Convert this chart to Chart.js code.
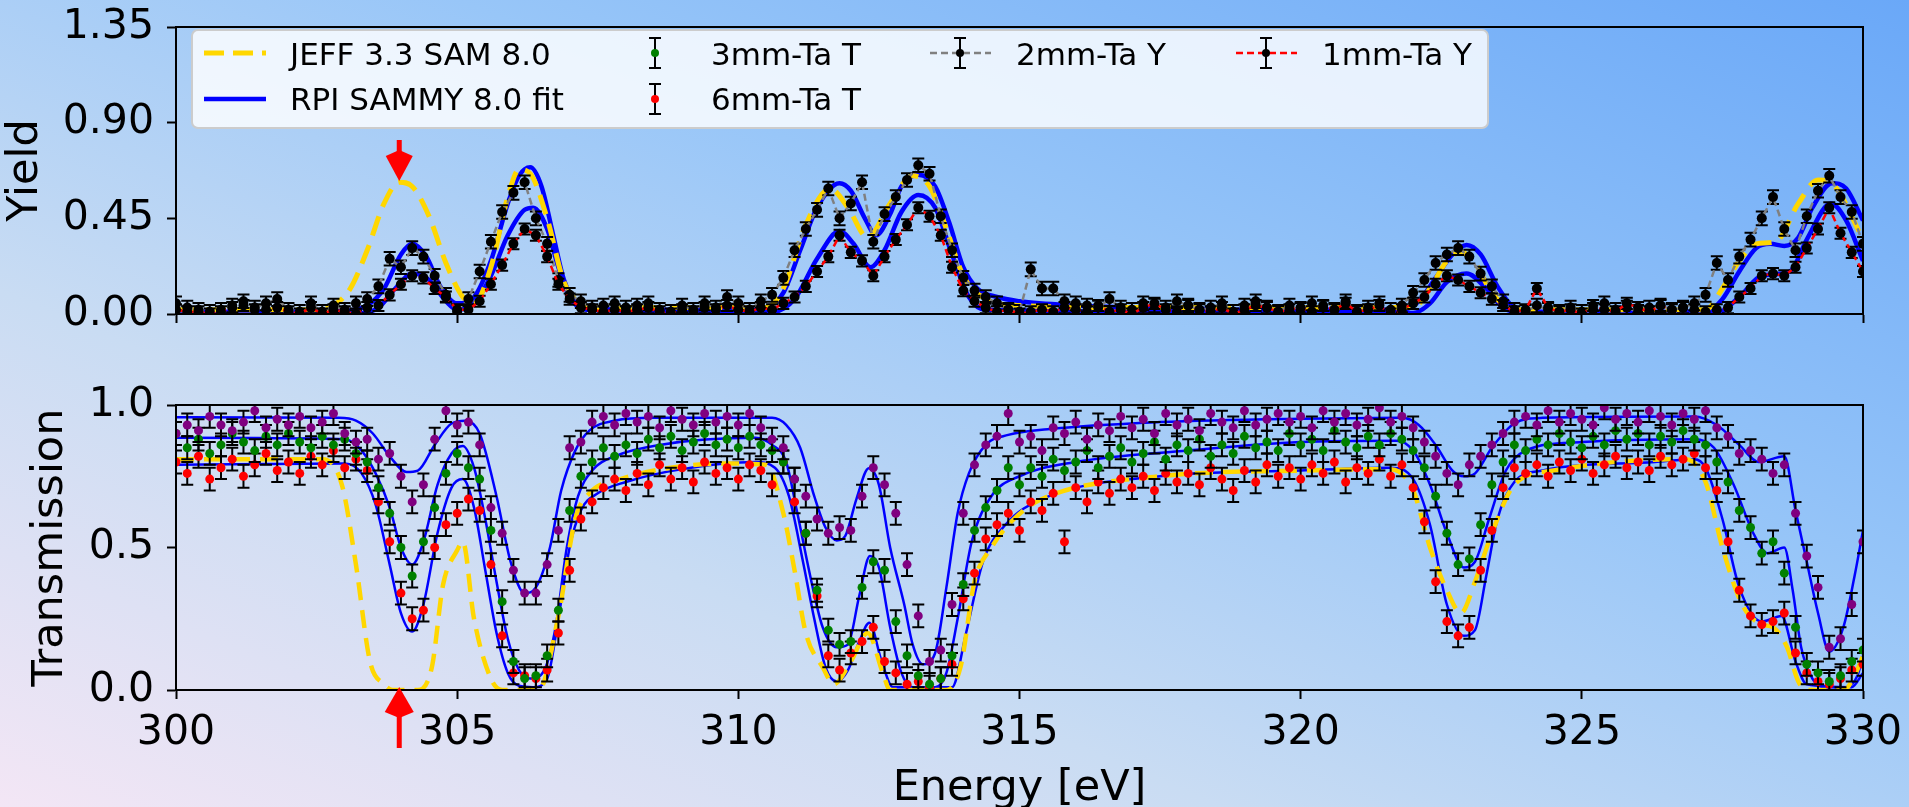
<!DOCTYPE html>
<html>
<head>
<meta charset="utf-8">
<script src="https://cdn.jsdelivr.net/npm/chart.js@4.4.1/dist/chart.umd.min.js"></script>
<style>
  html, body { margin: 0; padding: 0; width: 1909px; height: 807px; overflow: hidden; }
  body {
    position: relative;
    background: linear-gradient(to top right, #f3e6f5 0%, #c9dcf3 32%, #98c6f8 62%, #6aa8f8 100%);
  }
  canvas { position: absolute; left: 0; }
  #yieldChart { top: 0; }
  #transChart { top: 380px; }
</style>
</head>
<body>
<canvas id="yieldChart" width="1909" height="380"></canvas>
<canvas id="transChart" width="1909" height="440"></canvas>
<script>
// energy grid of the measured points [eV]
const dataE = [
  300.0, 300.2, 300.4, 300.6, 300.8, 301.0, 301.2, 301.4, 301.6, 301.8,
  302.0, 302.2, 302.4, 302.6, 302.8, 303.0, 303.2, 303.4, 303.6, 303.8,
  304.0, 304.2, 304.4, 304.6, 304.8, 305.0, 305.2, 305.4, 305.6, 305.8,
  306.0, 306.2, 306.4, 306.6, 306.8, 307.0, 307.2, 307.4, 307.6, 307.8,
  308.0, 308.2, 308.4, 308.6, 308.8, 309.0, 309.2, 309.4, 309.6, 309.8,
  310.0, 310.2, 310.4, 310.6, 310.8, 311.0, 311.2, 311.4, 311.6, 311.8,
  312.0, 312.2, 312.4, 312.6, 312.8, 313.0, 313.2, 313.4, 313.6, 313.8,
  314.0, 314.2, 314.4, 314.6, 314.8, 315.0, 315.2, 315.4, 315.6, 315.8,
  316.0, 316.2, 316.4, 316.6, 316.8, 317.0, 317.2, 317.4, 317.6, 317.8,
  318.0, 318.2, 318.4, 318.6, 318.8, 319.0, 319.2, 319.4, 319.6, 319.8,
  320.0, 320.2, 320.4, 320.6, 320.8, 321.0, 321.2, 321.4, 321.6, 321.8,
  322.0, 322.2, 322.4, 322.6, 322.8, 323.0, 323.2, 323.4, 323.6, 323.8,
  324.0, 324.2, 324.4, 324.6, 324.8, 325.0, 325.2, 325.4, 325.6, 325.8,
  326.0, 326.2, 326.4, 326.6, 326.8, 327.0, 327.2, 327.4, 327.6, 327.8,
  328.0, 328.2, 328.4, 328.6, 328.8, 329.0, 329.2, 329.4, 329.6, 329.8,
  330.0
];

// capture yield, 2 mm Ta
const yield2mm = [
  0.05, 0.03, 0.02, 0.01, 0.02, 0.04, 0.06, 0.03, 0.05, 0.07,
  0.02, 0.01, 0.05, 0.01, 0.04, 0.02, 0.05, 0.07, 0.13, 0.26,
  0.22, 0.31, 0.27, 0.18, 0.09, 0.01, 0.07, 0.20, 0.34, 0.48,
  0.57, 0.62, 0.45, 0.33, 0.16, 0.09, 0.06, 0.03, 0.04, 0.05,
  0.03, 0.04, 0.05, 0.02, 0.01, 0.04, 0.02, 0.05, 0.03, 0.08,
  0.05, 0.02, 0.06, 0.09, 0.17, 0.30, 0.40, 0.49, 0.59, 0.45,
  0.52, 0.62, 0.34, 0.47, 0.55, 0.63, 0.70, 0.66, 0.46, 0.30,
  0.17, 0.11, 0.08, 0.05, 0.02, 0.01, 0.21, 0.12, 0.12, 0.06,
  0.05, 0.04, 0.03, 0.07, 0.03, 0.02, 0.05, 0.04, 0.03, 0.06,
  0.04, 0.02, 0.03, 0.05, 0.01, 0.04, 0.06, 0.03, 0.01, 0.04,
  0.02, 0.05, 0.03, 0.02, 0.06, 0.01, 0.03, 0.05, 0.02, 0.04,
  0.10, 0.16, 0.24, 0.28, 0.31, 0.27, 0.19, 0.13, 0.06, 0.02,
  0.01, 0.04, 0.02, 0.01, 0.03, 0.01, 0.02, 0.05, 0.02, 0.03,
  0.01, 0.03, 0.04, 0.02, 0.03, 0.05, 0.09, 0.24, 0.16, 0.27,
  0.35, 0.45, 0.55, 0.40, 0.30, 0.46, 0.58, 0.65, 0.55, 0.48,
  0.33
];

// capture yield, 1 mm Ta
const yield1mm = [
  0.02, 0.01, 0.01, 0.00, 0.01, 0.03, 0.04, 0.02, 0.02, 0.03,
  0.01, 0.00, 0.03, 0.00, 0.02, 0.01, 0.00, 0.03, 0.04, 0.09,
  0.14, 0.18, 0.17, 0.12, 0.08, 0.02, 0.02, 0.06, 0.14, 0.23,
  0.33, 0.40, 0.37, 0.27, 0.14, 0.07, 0.03, 0.02, 0.01, 0.02,
  0.01, 0.02, 0.03, 0.01, 0.00, 0.02, 0.01, 0.03, 0.02, 0.04,
  0.02, 0.01, 0.03, 0.02, 0.05, 0.08, 0.13, 0.20, 0.27, 0.37,
  0.29, 0.25, 0.18, 0.27, 0.35, 0.42, 0.50, 0.46, 0.37, 0.22,
  0.11, 0.06, 0.03, 0.01, 0.02, 0.00, 0.01, 0.02, 0.01, 0.03,
  0.02, 0.01, 0.04, 0.01, 0.02, 0.00, 0.03, 0.05, 0.02, 0.01,
  0.04, 0.02, 0.01, 0.03, 0.00, 0.02, 0.04, 0.03, 0.01, 0.02,
  0.03, 0.01, 0.04, 0.02, 0.05, 0.01, 0.02, 0.04, 0.00, 0.02,
  0.05, 0.08, 0.14, 0.18, 0.16, 0.13, 0.10, 0.07, 0.04, 0.01,
  0.02, 0.12, 0.03, 0.01, 0.02, 0.00, 0.04, 0.02, 0.01, 0.05,
  0.03, 0.01, 0.04, 0.02, 0.03, 0.02, 0.01, 0.02, 0.03, 0.08,
  0.12, 0.18, 0.19, 0.18, 0.22, 0.31, 0.40, 0.50, 0.38, 0.29,
  0.20
];

// transmission, thinnest sample (purple, not in legend)
const transThin = [
  0.90, 0.93, 0.91, 0.96, 0.93, 0.91, 0.94, 0.98, 0.92, 0.95,
  0.93, 0.96, 0.92, 0.94, 0.97, 0.90, 0.87, 0.88, 0.81, 0.83,
  0.75, 0.66, 0.72, 0.88, 0.98, 0.93, 0.94, 0.86, 0.64, 0.55,
  0.42, 0.34, 0.34, 0.44, 0.56, 0.85, 0.87, 0.94, 0.96, 0.93,
  0.97, 0.94, 0.96, 0.92, 0.98, 0.95, 0.93, 0.97, 0.94, 0.96,
  0.93, 0.97, 0.92, 0.88, 0.85, 0.74, 0.68, 0.60, 0.55, 0.57,
  0.56, 0.68, 0.78, 0.72, 0.62, 0.44, 0.26, 0.10, 0.14, 0.30,
  0.62, 0.79, 0.86, 0.89, 0.97, 0.87, 0.89, 0.84, 0.92, 0.90,
  0.94, 0.88, 0.93, 0.91, 0.96, 0.92, 0.95, 0.90, 0.97, 0.93,
  0.95, 0.91, 0.97, 0.94, 0.92, 0.98, 0.93, 0.95, 0.97, 0.94,
  0.96, 0.92, 0.98, 0.94, 0.97, 0.93, 0.95, 0.99, 0.94, 0.96,
  0.92, 0.87, 0.82, 0.76, 0.72, 0.79, 0.82, 0.86, 0.90, 0.94,
  0.96, 0.93, 0.98, 0.94, 0.97, 0.95, 0.93, 0.99, 0.95, 0.97,
  0.94, 0.98, 0.96, 0.93, 0.97, 0.95, 0.98, 0.92, 0.89, 0.83,
  0.84, 0.81, 0.76, 0.79, 0.62, 0.47, 0.36, 0.15, 0.18, 0.30,
  0.52
];

// transmission, 3 mm Ta
const trans3mm = [
  0.90, 0.85, 0.88, 0.83, 0.86, 0.90, 0.87, 0.84, 0.89, 0.86,
  0.90, 0.87, 0.85, 0.89, 0.86, 0.88, 0.83, 0.80, 0.71, 0.62,
  0.50, 0.40, 0.52, 0.64, 0.76, 0.83, 0.78, 0.74, 0.56, 0.31,
  0.10, 0.04, 0.05, 0.12, 0.28, 0.63, 0.75, 0.80, 0.85, 0.82,
  0.86, 0.83, 0.88, 0.85, 0.89, 0.84, 0.87, 0.90, 0.86, 0.88,
  0.85, 0.89, 0.86, 0.84, 0.80, 0.74, 0.55, 0.35, 0.21, 0.16,
  0.17, 0.36, 0.45, 0.42, 0.24, 0.12, 0.05, 0.02, 0.04, 0.12,
  0.37, 0.56, 0.64, 0.70, 0.78, 0.72, 0.78, 0.75, 0.81, 0.77,
  0.80, 0.84, 0.78, 0.82, 0.85, 0.80, 0.83, 0.87, 0.81, 0.86,
  0.84, 0.88, 0.82, 0.86, 0.83, 0.89, 0.85, 0.87, 0.84, 0.90,
  0.86, 0.88, 0.84, 0.91, 0.87, 0.85, 0.89, 0.86, 0.90, 0.88,
  0.84, 0.78, 0.68, 0.55, 0.44, 0.46, 0.58, 0.72, 0.80, 0.86,
  0.84, 0.88, 0.86, 0.90, 0.87, 0.85, 0.89, 0.86, 0.91, 0.88,
  0.90, 0.86, 0.89, 0.87, 0.91, 0.88, 0.86, 0.80, 0.73, 0.63,
  0.57, 0.48, 0.52, 0.41, 0.22, 0.09, 0.06, 0.03, 0.05, 0.10,
  0.14
];

// transmission, 6 mm Ta
const trans6mm = [
  0.80, 0.76, 0.82, 0.74, 0.78, 0.81, 0.75, 0.79, 0.83, 0.77,
  0.80, 0.76, 0.82, 0.79, 0.84, 0.78, 0.81, 0.77, 0.66, 0.52,
  0.34, 0.25, 0.28, 0.50, 0.58, 0.62, 0.67, 0.63, 0.44, 0.19,
  0.06, 0.05, 0.04, 0.07, 0.20, 0.42, 0.60, 0.66, 0.71, 0.74,
  0.70, 0.76, 0.72, 0.79, 0.74, 0.78, 0.73, 0.80, 0.76, 0.78,
  0.74, 0.79, 0.77, 0.72, 0.80, 0.66, 0.55, 0.33, 0.12, 0.07,
  0.13, 0.17, 0.22, 0.10, 0.06, 0.02, 0.03, 0.01, 0.04, 0.09,
  0.32, 0.41, 0.53, 0.58, 0.62, 0.56, 0.66, 0.63, 0.69, 0.52,
  0.71, 0.66, 0.73, 0.69, 0.74, 0.71, 0.75, 0.70, 0.76, 0.73,
  0.76, 0.72, 0.78, 0.74, 0.70, 0.77, 0.73, 0.79, 0.75, 0.78,
  0.74, 0.79, 0.76, 0.80, 0.73, 0.78, 0.76, 0.81, 0.75, 0.79,
  0.71, 0.59, 0.38, 0.24, 0.19, 0.22, 0.42, 0.56, 0.71, 0.78,
  0.76, 0.79, 0.75, 0.80, 0.77, 0.81, 0.76, 0.79, 0.82, 0.78,
  0.80, 0.77, 0.82, 0.79, 0.81, 0.83, 0.78, 0.70, 0.52, 0.35,
  0.26, 0.23, 0.24, 0.27, 0.13, 0.06, 0.03, 0.02, 0.04, 0.07,
  0.09
];

// JEFF-3.3 yield curve
const jeffYieldE = [
  300, 302.5, 302.8, 303.1, 303.4, 303.7, 303.97, 304.2, 304.5, 304.8,
  305.1, 305.3, 305.6, 305.9, 306.1, 306.3, 306.6, 306.9, 307.2, 307.5,
  310.5, 310.8, 311.2, 311.63, 311.95, 312.3, 312.7, 313.1, 313.4, 313.7,
  314.0, 314.4, 315, 317, 322.0, 322.3, 322.6, 322.85, 323.1, 323.4,
  323.8, 327.2, 327.5, 327.8, 328.1, 328.45, 328.85, 329.2, 329.5, 330
];
const jeffYield = [
  0.02, 0.02, 0.04, 0.12, 0.30, 0.52, 0.62, 0.60, 0.46, 0.24,
  0.08, 0.05, 0.22, 0.55, 0.68, 0.66, 0.45, 0.15, 0.05, 0.03,
  0.03, 0.12, 0.42, 0.59, 0.50, 0.36, 0.52, 0.65, 0.60, 0.40,
  0.18, 0.07, 0.04, 0.03, 0.03, 0.12, 0.25, 0.29, 0.24, 0.10,
  0.02, 0.02, 0.12, 0.25, 0.33, 0.34, 0.52, 0.63, 0.60, 0.35
];

// RPI SAMMY fit, 2 mm yield
const fit2mmE = [
  300, 302.5, 303.0, 303.4, 303.7, 304.0, 304.2, 304.45, 304.7, 305.0,
  305.3, 305.6, 305.9, 306.1, 306.3, 306.5, 306.7, 306.9, 307.1, 307.4,
  308, 310, 310.5, 310.8, 311.1, 311.4, 311.8, 312.0, 312.25, 312.45,
  312.7, 312.9, 313.2, 313.5, 313.75, 314.0, 314.25, 314.6, 315, 316,
  317, 319, 321.8, 322.1, 322.4, 322.7, 322.95, 323.2, 323.5, 323.8,
  324.2, 327.2, 327.5, 327.8, 328.1, 328.35, 328.6, 328.85, 329.1, 329.45,
  329.7, 330
];
const fit2mmYield = [
  0.01, 0.01, 0.015, 0.04, 0.12, 0.28, 0.33, 0.27, 0.13, 0.05,
  0.08, 0.25, 0.52, 0.65, 0.69, 0.60, 0.38, 0.16, 0.06, 0.03,
  0.02, 0.02, 0.03, 0.10, 0.30, 0.50, 0.615, 0.58, 0.45, 0.37,
  0.47, 0.60, 0.655, 0.60, 0.43, 0.22, 0.12, 0.08, 0.06, 0.04,
  0.03, 0.02, 0.02, 0.06, 0.17, 0.28, 0.325, 0.28, 0.13, 0.03,
  0.01, 0.01, 0.07, 0.20, 0.31, 0.33, 0.32, 0.36, 0.50, 0.615,
  0.59, 0.44
];

// RPI SAMMY fit, 1 mm yield
const fit1mmE = [
  300, 303.3, 303.6, 303.9, 304.2, 304.5, 304.8, 305.0, 305.3, 305.6,
  305.9, 306.2, 306.35, 306.6, 306.8, 307.0, 307.3, 310.6, 311.0, 311.4,
  311.8, 312.05, 312.35, 312.6, 312.9, 313.2, 313.5, 313.8, 314.1, 314.4,
  322.0, 322.3, 322.6, 322.95, 323.3, 323.6, 324.0, 327.4, 327.8, 328.2,
  328.7, 329.0, 329.43, 329.7, 330
];
const fit1mmYield = [
  0.005, 0.005, 0.03, 0.12, 0.19, 0.16, 0.06, 0.02, 0.05, 0.18,
  0.37, 0.49, 0.50, 0.40, 0.22, 0.08, 0.02, 0.01, 0.07, 0.26,
  0.39, 0.33, 0.22, 0.30, 0.48, 0.56, 0.50, 0.28, 0.08, 0.02,
  0.005, 0.05, 0.15, 0.19, 0.12, 0.03, 0.005, 0.005, 0.08, 0.18,
  0.20, 0.35, 0.52, 0.44, 0.25
];

// RPI SAMMY fit, thin sample transmission
const fitThinE = [
  300, 302.9, 303.2, 303.5, 303.8, 304.1, 304.3, 304.6, 304.9, 305.15,
  305.4, 305.7, 305.95, 306.2, 306.4, 306.65, 306.85, 307.1, 307.35, 307.8,
  308.5, 310.6, 310.85, 311.1, 311.35, 311.55, 311.75, 311.9, 312.1, 312.32,
  312.5, 312.7, 312.95, 313.1, 313.28, 313.5, 313.7, 313.9, 314.1, 314.4,
  314.8, 315.5, 317.5, 320, 321.8, 322.1, 322.4, 322.7, 322.9, 323.1,
  323.4, 323.8, 324.3, 327.0, 327.4, 327.8, 328.15, 328.6, 328.8, 329.0,
  329.2, 329.4, 329.65, 329.85, 330
];
const fitThinT = [
  0.957, 0.955, 0.945, 0.90, 0.82, 0.765, 0.77, 0.86, 0.935, 0.945,
  0.90, 0.68, 0.45, 0.34, 0.36, 0.50, 0.70, 0.84, 0.91, 0.945,
  0.955, 0.955, 0.93, 0.85, 0.68, 0.57, 0.525, 0.54, 0.67, 0.778,
  0.72, 0.50, 0.30, 0.16, 0.09, 0.13, 0.36, 0.62, 0.76, 0.86,
  0.895, 0.915, 0.94, 0.952, 0.955, 0.93, 0.86, 0.77, 0.75, 0.76,
  0.85, 0.935, 0.955, 0.96, 0.93, 0.86, 0.80, 0.82, 0.63, 0.45,
  0.27, 0.135, 0.22, 0.40, 0.56
];

// RPI SAMMY fit, 3 mm transmission
const fit3mmE = [
  300, 303.0, 303.3, 303.55, 303.8, 304.0, 304.2, 304.4, 304.65, 304.9,
  305.1, 305.3, 305.5, 305.7, 305.9, 306.1, 306.3, 306.55, 306.75, 306.95,
  307.15, 307.4, 307.8, 308.6, 310.3, 310.6, 310.85, 311.05, 311.3, 311.5,
  311.75, 311.95, 312.15, 312.34, 312.5, 312.7, 312.9, 313.1, 313.5, 313.7,
  313.9, 314.15, 314.5, 315.0, 316.0, 318.0, 320.0, 321.7, 322.0, 322.3,
  322.6, 322.9, 323.1, 323.35, 323.65, 324.0, 325.0, 327.0, 327.35, 327.7,
  328.05, 328.3, 328.6, 328.75, 328.9, 329.1, 329.3, 329.7, 329.9, 330.0
];
const fit3mmT = [
  0.885, 0.88, 0.84, 0.76, 0.64, 0.50, 0.44, 0.52, 0.72, 0.83,
  0.856, 0.78, 0.60, 0.38, 0.18, 0.07, 0.04, 0.07, 0.22, 0.50,
  0.68, 0.77, 0.82, 0.86, 0.885, 0.86, 0.80, 0.62, 0.38, 0.22,
  0.15, 0.16, 0.33, 0.47, 0.43, 0.22, 0.06, 0.01, 0.01, 0.06,
  0.25, 0.52, 0.68, 0.75, 0.80, 0.84, 0.87, 0.875, 0.84, 0.72,
  0.55, 0.43, 0.45, 0.60, 0.77, 0.84, 0.87, 0.88, 0.85, 0.72,
  0.55, 0.48, 0.50, 0.35, 0.15, 0.04, 0.01, 0.01, 0.05, 0.12
];

// RPI SAMMY fit, 6 mm transmission
const fit6mmE = [
  300, 303.0, 303.3, 303.55, 303.8, 304.0, 304.2, 304.4, 304.65, 304.9,
  305.1, 305.3, 305.5, 305.7, 305.9, 306.1, 306.35, 306.6, 306.8, 307.0,
  307.2, 307.5, 308.0, 309.0, 310.3, 310.65, 310.9, 311.15, 311.35, 311.55,
  311.75, 311.95, 312.15, 312.33, 312.55, 312.75, 313.8, 314.05, 314.35, 314.75,
  315.4, 317.5, 320, 321.6, 322.0, 322.3, 322.6, 322.9, 323.1, 323.3,
  323.5, 323.8, 324.3, 326.3, 327.0, 327.2, 327.5, 327.8, 328.2, 328.55,
  328.8, 329.0, 329.8, 330
];
const fit6mmT = [
  0.79, 0.795, 0.76, 0.65, 0.44, 0.27, 0.205, 0.30, 0.55, 0.71,
  0.74, 0.64, 0.42, 0.20, 0.06, 0.015, 0.01, 0.04, 0.25, 0.50,
  0.63, 0.69, 0.73, 0.775, 0.80, 0.78, 0.68, 0.45, 0.25, 0.08,
  0.03, 0.07, 0.17, 0.236, 0.10, 0.01, 0.01, 0.20, 0.45, 0.58,
  0.67, 0.75, 0.77, 0.78, 0.74, 0.58, 0.30, 0.19, 0.21, 0.40,
  0.60, 0.73, 0.77, 0.80, 0.81, 0.78, 0.60, 0.36, 0.24, 0.26,
  0.10, 0.02, 0.01, 0.06
];

// JEFF-3.3 transmission curve
const jeffTransE = [
  300, 302.6, 302.95, 303.2, 303.45, 303.7, 303.85, 304.3, 304.55, 304.75,
  305.0, 305.1, 305.3, 305.6, 305.8, 306.45, 306.8, 307.1, 307.35, 307.9,
  309.8, 310.5, 310.8, 311.0, 311.2, 311.5, 311.7, 312.0, 312.3, 312.57,
  312.7, 313.7, 313.95, 314.2, 314.5, 314.9, 315.4, 317.5, 320, 321.6,
  322.0, 322.3, 322.6, 322.85, 323.1, 323.4, 323.8, 324.5, 326.85, 327.2,
  327.5, 327.85, 328.2, 328.4, 328.65, 328.85, 329.0, 329.66, 329.85, 330
];
const jeffTrans = [
  0.81, 0.81, 0.72, 0.44, 0.10, 0.02, 0.0, 0.0, 0.08, 0.37,
  0.49, 0.52, 0.25, 0.04, 0.0, 0.0, 0.26, 0.60, 0.69, 0.74,
  0.795, 0.79, 0.62, 0.42, 0.20, 0.08, 0.02, 0.10, 0.20, 0.06,
  0.0, 0.0, 0.08, 0.38, 0.50, 0.60, 0.67, 0.75, 0.77, 0.775,
  0.70, 0.50, 0.35, 0.27, 0.38, 0.55, 0.72, 0.77, 0.81, 0.73,
  0.50, 0.30, 0.23, 0.22, 0.15, 0.03, 0.0, 0.0, 0.05, 0.12
];

const energyTicks = [300, 305, 310, 315, 320, 325, 330];
const yieldTicks = [0, 0.45, 0.90, 1.35];
const transTicks = [0, 0.5, 1.0];
const arrowEnergy = 303.97;   // missing resonance marked by the red arrows
const yieldErr = { y2: 0.032, y1: 0.026 };
const transErr = 0.04;

const FONT = 'DejaVu Sans';
const pts = (xs, ys) => xs.map((x, i) => ({ x: x, y: ys[i] }));

// black error bars under each measured dataset
const errorBars = {
  id: 'errorBars',
  beforeDatasetDraw(chart, args) {
    const ds = chart.data.datasets[args.index];
    if (!ds.errHalf) return;
    const ys = chart.scales.y, a = chart.chartArea, ctx = chart.ctx;
    ctx.save();
    ctx.beginPath();
    ctx.rect(a.left, a.top, a.right - a.left, a.bottom - a.top);
    ctx.clip();
    ctx.strokeStyle = '#000';
    ctx.lineWidth = 2;
    ctx.beginPath();
    args.meta.data.forEach((p, i) => {
      const v = ds.data[i].y;
      const y1 = ys.getPixelForValue(v - ds.errHalf);
      const y2 = ys.getPixelForValue(v + ds.errHalf);
      ctx.moveTo(p.x, y1); ctx.lineTo(p.x, y2);
      ctx.moveTo(p.x - 6, y1); ctx.lineTo(p.x + 6, y1);
      ctx.moveTo(p.x - 6, y2); ctx.lineTo(p.x + 6, y2);
    });
    ctx.stroke();
    ctx.restore();
  }
};

// box round the plot area
const frame = {
  id: 'frame',
  afterDraw(chart) {
    const a = chart.chartArea, ctx = chart.ctx;
    ctx.save();
    ctx.strokeStyle = '#000';
    ctx.lineWidth = 2;
    ctx.strokeRect(a.left, a.top, a.right - a.left, a.bottom - a.top);
    ctx.restore();
  }
};

const arrow = {
  id: 'arrow',
  afterDraw(chart, args, o) {
    const x = chart.scales.x.getPixelForValue(arrowEnergy);
    const ctx = chart.ctx;
    ctx.save();
    ctx.fillStyle = '#ff0000';
    ctx.strokeStyle = '#ff0000';
    ctx.lineWidth = 5;
    ctx.beginPath(); ctx.moveTo(x, o.tail); ctx.lineTo(x, o.base); ctx.stroke();
    ctx.beginPath();
    ctx.moveTo(x, o.tip);
    ctx.lineTo(x - o.head / 2, o.base);
    ctx.lineTo(x, o.base + (o.tip < o.base ? 6 : -6));
    ctx.lineTo(x + o.head / 2, o.base);
    ctx.closePath();
    ctx.fill();
    ctx.restore();
  }
};

function errGlyph(ctx, x, y, dot) {
  ctx.strokeStyle = '#000';
  ctx.lineWidth = 2;
  ctx.beginPath();
  ctx.moveTo(x, y - 15); ctx.lineTo(x, y + 15);
  ctx.moveTo(x - 6, y - 15); ctx.lineTo(x + 6, y - 15);
  ctx.moveTo(x - 6, y + 15); ctx.lineTo(x + 6, y + 15);
  ctx.stroke();
  ctx.fillStyle = dot;
  ctx.beginPath(); ctx.arc(x, y, 4, 0, Math.PI * 2); ctx.fill();
}

const legendBox = {
  id: 'legendBox',
  afterDraw(chart) {
    const ctx = chart.ctx;
    ctx.save();
    ctx.fillStyle = 'rgba(255,255,255,0.82)';
    ctx.strokeStyle = '#cccccc';
    ctx.lineWidth = 2;
    ctx.beginPath();
    ctx.roundRect(192, 30, 1296, 98, 6);
    ctx.fill(); ctx.stroke();

    const r1 = 53, r2 = 99;
    ctx.lineCap = 'butt';
    ctx.setLineDash([20, 9]); ctx.strokeStyle = '#ffd700'; ctx.lineWidth = 5;
    ctx.beginPath(); ctx.moveTo(204, r1); ctx.lineTo(266, r1); ctx.stroke();
    ctx.setLineDash([]); ctx.strokeStyle = '#0000ff'; ctx.lineWidth = 4.5;
    ctx.beginPath(); ctx.moveTo(204, r2); ctx.lineTo(266, r2); ctx.stroke();

    errGlyph(ctx, 655, r1, '#008000');
    errGlyph(ctx, 655, r2, '#ff0000');

    ctx.setLineDash([7, 4]); ctx.lineWidth = 2.5;
    ctx.strokeStyle = '#808080';
    ctx.beginPath(); ctx.moveTo(930, r1); ctx.lineTo(991, r1); ctx.stroke();
    ctx.strokeStyle = '#ff0000';
    ctx.beginPath(); ctx.moveTo(1236, r1); ctx.lineTo(1297, r1); ctx.stroke();
    ctx.setLineDash([]);
    errGlyph(ctx, 960, r1, '#000');
    errGlyph(ctx, 1266, r1, '#000');

    ctx.fillStyle = '#000';
    ctx.font = '31px "' + FONT + '"';
    ctx.textBaseline = 'alphabetic';
    ctx.fillText('JEFF 3.3 SAM 8.0', 290, 65);
    ctx.fillText('RPI SAMMY 8.0 fit', 290, 110);
    ctx.fillText('3mm-Ta T', 711, 65);
    ctx.fillText('6mm-Ta T', 711, 110);
    ctx.fillText('2mm-Ta Y', 1016, 65);
    ctx.fillText('1mm-Ta Y', 1322, 65);
    ctx.restore();
  }
};

function xAxis(showLabels, height) {
  return {
    type: 'linear', min: 300, max: 330,
    afterBuildTicks: s => { s.ticks = energyTicks.map(v => ({ value: v })); },
    afterFit: s => { s.height = height; s.paddingLeft = 0; s.paddingRight = 0; },
    ticks: { display: showLabels, color: '#000', padding: 10, maxRotation: 0, autoSkip: false,
             font: { family: FONT, size: 41 } },
    grid: { drawOnChartArea: false, tickLength: 9, tickWidth: 2, tickColor: '#000' },
    border: { color: '#000', width: 2 },
    title: { display: showLabels, text: 'Energy [eV]', color: '#000',
             font: { family: FONT, size: 43 }, padding: { top: 0, bottom: 5 } }
  };
}

function yAxis(ticks, digits, label, titlePad) {
  return {
    type: 'linear', min: ticks[0], max: ticks[ticks.length - 1],
    afterBuildTicks: s => { s.ticks = ticks.map(v => ({ value: v })); },
    afterFit: s => { s.width = 176; s.paddingTop = 0; s.paddingBottom = 0; },
    ticks: { color: '#000', padding: 13, font: { family: FONT, size: 41 },
             callback: v => Number(v).toFixed(digits) },
    grid: { drawOnChartArea: false, tickLength: 9, tickWidth: 2, tickColor: '#000' },
    border: { color: '#000', width: 2 },
    title: { display: true, text: label, color: '#000',
             font: { family: FONT, size: 43 }, padding: { top: titlePad, bottom: 0 } }
  };
}

const common = {
  responsive: false,
  animation: false,
  devicePixelRatio: 1,
  events: [],
  plugins: { legend: { display: false }, tooltip: { enabled: false } }
};

new Chart(document.getElementById('yieldChart'), {
  type: 'line',
  data: {
    datasets: [
      { label: '1mm-Ta Y', data: pts(dataE, yield1mm), errHalf: yieldErr.y1,
        borderColor: '#ff0000', borderWidth: 2.5, borderDash: [7, 4],
        pointRadius: 5, pointBackgroundColor: '#000', pointBorderWidth: 0 },
      { label: '2mm-Ta Y', data: pts(dataE, yield2mm), errHalf: yieldErr.y2,
        borderColor: '#808080', borderWidth: 2.5, borderDash: [7, 4],
        pointRadius: 5, pointBackgroundColor: '#000', pointBorderWidth: 0 },
      { label: 'JEFF 3.3 SAM 8.0', data: pts(jeffYieldE, jeffYield),
        borderColor: '#ffd700', borderWidth: 5, borderDash: [20, 10],
        pointRadius: 0, cubicInterpolationMode: 'monotone' },
      { label: 'RPI SAMMY 8.0 fit', data: pts(fit2mmE, fit2mmYield),
        borderColor: '#0000ff', borderWidth: 4.5,
        pointRadius: 0, cubicInterpolationMode: 'monotone' },
      { label: 'RPI SAMMY 8.0 fit (1mm)', data: pts(fit1mmE, fit1mmYield),
        borderColor: '#0000ff', borderWidth: 4.5,
        pointRadius: 0, cubicInterpolationMode: 'monotone' }
    ]
  },
  options: Object.assign({}, common, {
    layout: { padding: { top: 27, right: 46, left: 0, bottom: 0 } },
    scales: { x: xAxis(false, 66), y: yAxis(yieldTicks, 2, 'Yield', 0) },
    plugins: Object.assign({}, common.plugins, {
      arrow: { tip: 181, base: 156, tail: 140, head: 27 }
    })
  }),
  plugins: [errorBars, frame, arrow, legendBox]
});

new Chart(document.getElementById('transChart'), {
  type: 'line',
  data: {
    datasets: [
      { label: 'thin Ta T', data: pts(dataE, transThin), errHalf: transErr, showLine: false,
        pointRadius: 4.5, pointBackgroundColor: '#800080', pointBorderWidth: 0 },
      { label: '3mm-Ta T', data: pts(dataE, trans3mm), errHalf: transErr, showLine: false,
        pointRadius: 4.5, pointBackgroundColor: '#008000', pointBorderWidth: 0 },
      { label: '6mm-Ta T', data: pts(dataE, trans6mm), errHalf: transErr, showLine: false,
        pointRadius: 4.5, pointBackgroundColor: '#ff0000', pointBorderWidth: 0 },
      { label: 'JEFF 3.3 SAM 8.0', data: pts(jeffTransE, jeffTrans),
        borderColor: '#ffd700', borderWidth: 4.5, borderDash: [18, 10],
        pointRadius: 0, cubicInterpolationMode: 'monotone' },
      { label: 'RPI fit thin', data: pts(fitThinE, fitThinT),
        borderColor: '#0000ff', borderWidth: 2.5, pointRadius: 0, cubicInterpolationMode: 'monotone' },
      { label: 'RPI fit 3mm', data: pts(fit3mmE, fit3mmT),
        borderColor: '#0000ff', borderWidth: 2.5, pointRadius: 0, cubicInterpolationMode: 'monotone' },
      { label: 'RPI fit 6mm', data: pts(fit6mmE, fit6mmT),
        borderColor: '#0000ff', borderWidth: 2.5, pointRadius: 0, cubicInterpolationMode: 'monotone' }
    ]
  },
  options: Object.assign({}, common, {
    layout: { padding: { top: 25, right: 46, left: 0, bottom: 0 } },
    scales: { x: xAxis(true, 130), y: yAxis(transTicks, 1, 'Transmission', 25) },
    plugins: Object.assign({}, common.plugins, {
      arrow: { tip: 307, base: 332, tail: 368, head: 29 }
    })
  }),
  plugins: [errorBars, frame, arrow]
});
</script>
</body>
</html>
